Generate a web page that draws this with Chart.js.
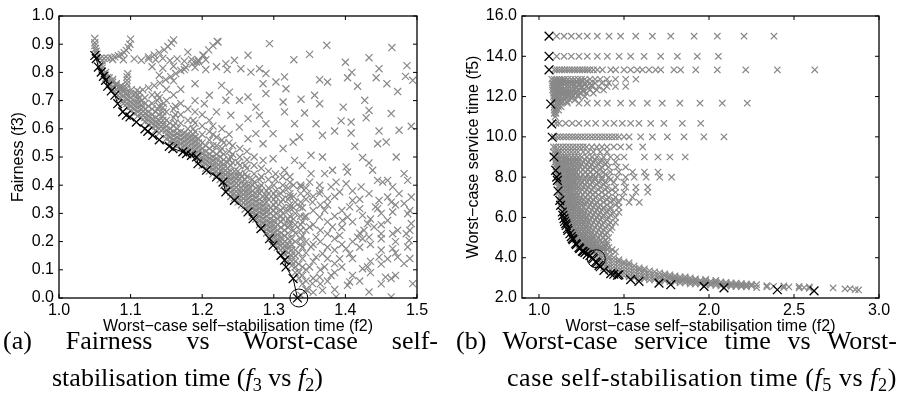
<!DOCTYPE html>
<html>
<head>
<meta charset="utf-8">
<script src="https://cdn.jsdelivr.net/npm/chart.js@4.4.0/dist/chart.umd.min.js"></script>
<style>
body{margin:0;background:#fff;width:898px;height:399px;overflow:hidden;position:relative}
#ca{position:absolute;left:0;top:0}
#cb{position:absolute;left:450px;top:0}
.cap{position:absolute;font-family:"Liberation Serif",serif;font-size:26px;line-height:37px;color:#000}
.cap div{white-space:nowrap}
.just{text-align:justify;text-align-last:justify;white-space:normal!important}
.cap sub{font-size:70%;vertical-align:-0.25em;line-height:0}
</style>
</head>
<body>
<canvas id="ca" width="450" height="340"></canvas>
<canvas id="cb" width="448" height="340"></canvas>
<div class="cap" style="left:3px;top:322px;width:435px">
  <div class="just">(a) Fairness vs Worst-case self-</div>
  <div style="padding-left:49px">stabilisation time (<i>f</i><sub>3</sub> vs <i>f</i><sub>2</sub>)</div>
</div>
<div class="cap" style="left:456px;top:322px;width:441px">
  <div class="just">(b) Worst-case service time vs Worst-</div>
  <div style="padding-left:51px;letter-spacing:0.55px">case self-stabilisation time (<i>f</i><sub>5</sub> vs <i>f</i><sub>2</sub>)</div>
</div>
<script>
// ---- (a) f3 vs f2 ----
const ticksAX = [1.0, 1.1, 1.2, 1.3, 1.4, 1.5];
const ticksAY = [0.0, 0.1, 0.2, 0.3, 0.4, 0.5, 0.6, 0.7, 0.8, 0.9, 1.0];

// non-dominated front (black, joined)
const frontA = [
 [1.050,0.860],[1.052,0.849],[1.055,0.819],[1.059,0.801],[1.062,0.786],[1.065,0.772],
 [1.068,0.751],[1.073,0.734],[1.078,0.719],[1.082,0.689],[1.089,0.660],[1.094,0.648],
 [1.099,0.642],[1.108,0.624],[1.120,0.600],[1.124,0.591],[1.131,0.577],[1.140,0.561],
 [1.154,0.538],[1.159,0.530],[1.173,0.518],[1.178,0.512],[1.185,0.506],[1.192,0.500],
 [1.194,0.476],[1.206,0.453],[1.220,0.429],[1.229,0.411],[1.233,0.376],[1.245,0.346],
 [1.264,0.305],[1.271,0.281],[1.282,0.246],[1.294,0.210],[1.299,0.187],[1.310,0.151],
 [1.315,0.134],[1.317,0.110],[1.327,0.069],[1.333,0.000]
];
const pickA = [[1.335,0.0]];

// dense population next to the front: [f2, [f3 ...]]
const denseA = [
 [1.06,[0.805,0.815,0.825]],
 [1.065,[0.78,0.79,0.80]],
 [1.07,[0.76,0.77,0.78]],
 [1.075,[0.74,0.75,0.765,0.775]],
 [1.08,[0.725,0.74,0.755]],
 [1.085,[0.71,0.725,0.74,0.75]],
 [1.09,[0.69,0.70,0.715,0.73,0.745]],
 [1.095,[0.675,0.69,0.705,0.72]],
 [1.10,[0.665,0.68,0.695,0.71,0.725]],
 [1.105,[0.655,0.67,0.685,0.70,0.72]],
 [1.11,[0.645,0.66,0.675,0.69,0.705,0.72]],
 [1.115,[0.64,0.655,0.67,0.685,0.70]],
 [1.12,[0.625,0.64,0.655,0.67,0.69,0.71]],
 [1.125,[0.615,0.63,0.645,0.66,0.68]],
 [1.13,[0.605,0.62,0.635,0.65,0.67,0.69,0.72]],
 [1.135,[0.595,0.61,0.625,0.64,0.66]],
 [1.14,[0.585,0.60,0.615,0.63,0.65,0.68,0.71,0.79]],
 [1.15,[0.565,0.58,0.595,0.61,0.63,0.66,0.70,0.74]],
 [1.155,[0.555,0.57,0.585,0.60,0.62]],
 [1.16,[0.545,0.56,0.575,0.59,0.61,0.64,0.67,0.72,0.77]],
 [1.165,[0.54,0.555,0.57,0.585,0.60]],
 [1.17,[0.53,0.545,0.56,0.575,0.59,0.62,0.65,0.69,0.74]],
 [1.175,[0.525,0.54,0.555,0.57,0.585]],
 [1.18,[0.52,0.535,0.55,0.565,0.58,0.60,0.63,0.67]],
 [1.185,[0.515,0.53,0.545,0.56,0.575]],
 [1.19,[0.51,0.525,0.54,0.555,0.57,0.59,0.62,0.66,0.70,0.76]],
 [1.195,[0.49,0.505,0.52,0.535,0.55,0.565]],
 [1.20,[0.47,0.485,0.50,0.515,0.53,0.55,0.58,0.61,0.65]],
 [1.205,[0.46,0.475,0.49,0.505,0.52,0.54]],
 [1.21,[0.45,0.465,0.48,0.495,0.51,0.53,0.56,0.59,0.63]],
 [1.215,[0.44,0.455,0.47,0.485,0.50,0.52]],
 [1.22,[0.435,0.45,0.465,0.48,0.495,0.51,0.54,0.57]],
 [1.225,[0.42,0.435,0.45,0.465,0.48,0.50,0.52]],
 [1.23,[0.40,0.415,0.43,0.445,0.46,0.475,0.49,0.51,0.55]],
 [1.235,[0.385,0.40,0.415,0.43,0.445,0.46,0.48]],
 [1.24,[0.36,0.375,0.39,0.405,0.42,0.435,0.45,0.47,0.50]],
 [1.245,[0.355,0.37,0.385,0.40,0.415,0.43,0.45]],
 [1.25,[0.34,0.355,0.37,0.385,0.40,0.415,0.43,0.45,0.48]],
 [1.255,[0.33,0.345,0.36,0.375,0.39,0.41,0.43]],
 [1.26,[0.315,0.33,0.345,0.36,0.375,0.39,0.405,0.42,0.44,0.47]],
 [1.265,[0.31,0.325,0.34,0.355,0.37,0.385,0.40]],
 [1.27,[0.29,0.305,0.32,0.335,0.35,0.365,0.38,0.40,0.42]],
 [1.275,[0.28,0.295,0.31,0.325,0.34,0.355,0.37,0.39]],
 [1.28,[0.26,0.275,0.29,0.305,0.32,0.335,0.35,0.37,0.39,0.42]],
 [1.285,[0.25,0.265,0.28,0.295,0.31,0.325,0.34,0.36]],
 [1.29,[0.23,0.245,0.26,0.275,0.29,0.305,0.32,0.34,0.36,0.38]],
 [1.295,[0.22,0.235,0.25,0.265,0.28,0.30,0.32]],
 [1.30,[0.20,0.215,0.23,0.245,0.26,0.275,0.29,0.31,0.33,0.35,0.37,0.40]],
 [1.305,[0.18,0.195,0.21,0.225,0.24,0.26,0.28]],
 [1.31,[0.17,0.185,0.20,0.215,0.23,0.25,0.27,0.29,0.31,0.34,0.37]],
 [1.315,[0.155,0.17,0.185,0.20,0.22,0.24,0.26]],
 [1.32,[0.13,0.145,0.16,0.175,0.19,0.21,0.23,0.25,0.28,0.31,0.35,0.39]],
 [1.325,[0.115,0.13,0.15,0.17,0.19,0.21]],
 [1.33,[0.09,0.11,0.13,0.15,0.17,0.20,0.23,0.26,0.30,0.34]],
 [1.335,[0.07,0.09,0.12,0.16]],
 [1.34,[0.05,0.08,0.11,0.14,0.18,0.22,0.27,0.32]],
 [1.345,[0.03,0.06,0.10]]
];

// extra fill of the thick part of the population: [f2, [f3 ...]]
const fillA = [
 [1.1125,[0.71,0.73]],
 [1.1375,[0.67,0.70,0.72]],
 [1.1625,[0.62,0.65,0.68]],
 [1.1875,[0.58,0.60,0.63]],
 [1.215,[0.54,0.58,0.61]],
 [1.2275,[0.53,0.56,0.60]],
 [1.2375,[0.49,0.52,0.55,0.58]],
 [1.2425,[0.48,0.51,0.54]],
 [1.2525,[0.44,0.47,0.50,0.53]],
 [1.2625,[0.43,0.46,0.49,0.52]],
 [1.2725,[0.41,0.44,0.47,0.50]],
 [1.2825,[0.38,0.40,0.43,0.46]],
 [1.2925,[0.35,0.37,0.39,0.42,0.45]],
 [1.3025,[0.30,0.32,0.34,0.36,0.38,0.42,0.44]],
 [1.3125,[0.28,0.30,0.32,0.35,0.38,0.40,0.43]],
 [1.3225,[0.26,0.27,0.29,0.32,0.33,0.36,0.37,0.41,0.43]],
 [1.3275,[0.24,0.28,0.32,0.36,0.40]],
 [1.3375,[0.19,0.21,0.24,0.26,0.29,0.34,0.37,0.40]],
 [1.345,[0.16,0.20,0.24,0.29,0.35,0.39]],
 [1.355,[0.02,0.07,0.13,0.19,0.26,0.31,0.36]],
 [1.365,[0.05,0.10,0.20,0.24,0.33,0.38]],
 [1.375,[0.06,0.14,0.18,0.27,0.33]],
 [1.385,[0.03,0.09,0.17,0.21,0.29,0.36]],
 [1.395,[0.11,0.19,0.25,0.31]],
 [1.41,[0.08,0.14,0.20,0.27,0.38]],
 [1.42,[0.06,0.18,0.23,0.35]],
 [1.435,[0.09,0.13,0.19,0.28]],
 [1.45,[0.05,0.12,0.17,0.21,0.26,0.30]],
 [1.47,[0.08,0.16,0.20,0.33]],
 [1.49,[0.14,0.24,0.31]]
];

// arcs, bands and spikes in the upper left
const arcsA = [
 [1.05,0.92],[1.05,0.905],[1.05,0.895],[1.051,0.885],[1.052,0.875],[1.053,0.865],
 [1.058,0.85],[1.063,0.849],[1.068,0.85],[1.073,0.852],[1.078,0.855],[1.083,0.859],
 [1.087,0.864],[1.091,0.87],[1.094,0.878],[1.097,0.888],[1.099,0.9],[1.10,0.918],
 [1.06,0.842],[1.075,0.846],[1.09,0.845],[1.105,0.848],[1.115,0.843],[1.125,0.848],
 [1.135,0.845],[1.145,0.85],[1.155,0.842],[1.165,0.848],[1.175,0.84],[1.185,0.846],
 [1.195,0.838],[1.205,0.845],
 [1.13,0.82],[1.145,0.815],[1.16,0.822],[1.175,0.81],[1.19,0.818],[1.205,0.81],[1.22,0.82],[1.235,0.81],
 [1.125,0.855],[1.133,0.862],[1.14,0.87],[1.147,0.88],[1.152,0.892],[1.157,0.904],[1.16,0.915],
 [1.063,0.795],[1.068,0.782],[1.074,0.77],[1.08,0.76],[1.087,0.752],[1.094,0.745],
 [1.101,0.739],[1.109,0.736],[1.117,0.738],[1.125,0.745],[1.133,0.753],[1.141,0.762],
 [1.149,0.774],[1.156,0.785],[1.163,0.796],[1.17,0.807],[1.177,0.818],[1.186,0.83],
 [1.195,0.843],[1.202,0.86],[1.209,0.88],[1.215,0.895],[1.221,0.91],
 [1.095,0.76],[1.095,0.772],[1.095,0.784],[1.096,0.795],[1.094,0.728],
 [1.145,0.6],[1.145,0.615],[1.145,0.63],[1.145,0.645],[1.145,0.66],[1.145,0.675],[1.146,0.69]
];

// scattered population
const scatterA = [
 [1.222,0.908],[1.294,0.902],[1.374,0.896],[1.465,0.888],[1.35,0.864],[1.328,0.845],
 [1.433,0.852],[1.40,0.836],[1.486,0.824],[1.447,0.813],[1.494,0.772],[1.484,0.786],
 [1.403,0.781],[1.409,0.80],[1.364,0.774],[1.375,0.766],[1.443,0.781],[1.458,0.76],
 [1.473,0.732],[1.417,0.751],[1.427,0.701],[1.433,0.665],[1.429,0.639],[1.464,0.654],
 [1.397,0.677],[1.357,0.719],[1.364,0.689],[1.338,0.705],[1.343,0.656],[1.359,0.618],
 [1.394,0.628],[1.408,0.624],[1.408,0.585],[1.385,0.592],[1.368,0.577],[1.447,0.592],
 [1.475,0.595],[1.492,0.609],[1.457,0.553],[1.445,0.547],[1.471,0.50],[1.413,0.538],
 [1.424,0.498],[1.433,0.479],[1.368,0.50],[1.352,0.506],[1.327,0.553],[1.336,0.571],
 [1.329,0.618],[1.315,0.66],[1.313,0.695],[1.317,0.742],[1.315,0.784],[1.303,0.766],
 [1.289,0.796],[1.28,0.813],[1.264,0.861],[1.245,0.843],[1.233,0.831],[1.201,0.861],
 [1.192,0.837],[1.18,0.872],[1.254,0.813],[1.268,0.801],[1.285,0.76],[1.289,0.725],
 [1.264,0.713],[1.275,0.677],[1.252,0.701],[1.238,0.73],[1.227,0.754],[1.21,0.719],
 [1.203,0.689],[1.22,0.66],[1.233,0.701],[1.24,0.648],[1.252,0.606],[1.264,0.636],
 [1.28,0.648],[1.289,0.618],[1.299,0.583],[1.275,0.583],[1.264,0.565],[1.285,0.547],
 [1.313,0.53],[1.299,0.494],[1.285,0.488],[1.315,0.453],[1.329,0.488],[1.34,0.47],
 [1.352,0.441],[1.371,0.441],[1.382,0.453],[1.401,0.465],[1.403,0.447],[1.438,0.453],
 [1.445,0.417],[1.452,0.411],[1.482,0.441],[1.487,0.417],[1.492,0.358],[1.482,0.335],
 [1.487,0.299],[1.492,0.264],[1.485,0.228],[1.489,0.204],[1.487,0.181],[1.482,0.122],
 [1.494,0.051],[1.473,0.145],[1.459,0.139],[1.447,0.145],[1.456,0.074],[1.466,0.228],
 [1.473,0.24],[1.459,0.275],[1.464,0.34],[1.459,0.358],[1.466,0.305],[1.447,0.346],
 [1.445,0.317],[1.44,0.252],[1.431,0.264],[1.426,0.24],[1.433,0.37],[1.422,0.394],
 [1.41,0.346],[1.401,0.405],[1.392,0.376],[1.387,0.411],[1.406,0.323],[1.403,0.287],
 [1.42,0.317],[1.424,0.293],[1.417,0.216],[1.424,0.21],[1.431,0.11],[1.424,0.104],
 [1.433,0.021],[1.406,0.057],[1.403,0.045],[1.401,0.175],[1.406,0.157],[1.392,0.139],
 [1.385,0.122],[1.387,0.004],[1.38,0.08],[1.371,0.11],[1.368,0.157],[1.375,0.228],
 [1.392,0.222],[1.382,0.252],[1.396,0.275],[1.364,0.287],[1.371,0.311],[1.354,0.34],
 [1.364,0.37],[1.375,0.352],[1.38,0.394],[1.364,0.40],[1.35,0.411],[1.347,0.37],
 [1.338,0.394],[1.336,0.323],[1.343,0.287],[1.35,0.252],[1.359,0.216],[1.352,0.181],
 [1.359,0.145],[1.35,0.11],[1.364,0.074],[1.354,0.051],[1.347,0.027],[1.338,0.009],
 [1.368,0.027],[1.464,0.004],[1.464,0.069],[1.466,0.175],[1.475,0.37],[1.45,0.228],
 [1.433,0.216],[1.442,0.323],[1.466,0.394],[1.459,0.417]
];

// ---- (b) f5 vs f2 ----
const ticksBX = [1.0, 1.5, 2.0, 2.5, 3.0];
const ticksBY = [2, 4, 6, 8, 10, 12, 14, 16];

const frontB = [
 [1.059,15.0],[1.059,14.0],[1.059,13.33],[1.069,11.63],[1.075,10.64],[1.078,9.98],
 [1.088,9.0],[1.098,8.34],[1.104,8.0],[1.108,7.84],[1.112,7.31],[1.122,6.85],
 [1.127,6.6],[1.137,6.27],[1.14,6.1],[1.147,5.94],[1.15,5.8],[1.157,5.69],[1.16,5.6],
 [1.167,5.44],[1.17,5.35],[1.182,5.19],[1.19,5.05],[1.196,4.95],[1.2,4.9],[1.216,4.70],
 [1.22,4.65],[1.235,4.50],[1.24,4.45],[1.255,4.33],[1.26,4.3],[1.27,4.25],[1.284,4.17],
 [1.3,4.1],[1.314,4.0],[1.32,3.95],[1.333,3.79],[1.34,3.75],[1.353,3.62],[1.36,3.55],
 [1.382,3.37],[1.422,3.21],[1.44,3.18],[1.461,3.13],[1.47,3.15],[1.539,2.91],[1.588,2.83],
 [1.706,2.74],[1.775,2.66],[1.971,2.58],[2.088,2.50],[2.402,2.41],[2.618,2.35]
];
const pickB = [[1.337,3.95]];

// horizontal rows of the population: [f5, [f2 ...]]
const rowsB = [
 [15.0,[1.104,1.147,1.19,1.235,1.284,1.343,1.412,1.48,1.569,1.667,1.775,1.912,2.049,2.206,2.382]],
 [14.0,[1.104,1.147,1.19,1.235,1.284,1.343,1.402,1.471,1.539,1.618,1.716,1.814,1.931,2.055]],
 [13.33,[1.09,1.105,1.12,1.135,1.15,1.165,1.18,1.195,1.21,1.225,1.24,1.255,1.27,1.285,1.30,1.32,1.343,1.373,1.422,1.451,1.50,1.539,1.578,1.608,1.647,1.686,1.716,1.794,1.833,1.922,2.049,2.216,2.402,2.622]],
 [12.86,[1.075,1.09,1.105,1.12,1.135,1.15,1.17,1.19,1.21,1.23,1.25,1.27,1.30,1.33,1.36,1.40,1.45,1.51,1.57]],
 [12.67,[1.08,1.095,1.11,1.125,1.14,1.16,1.18,1.20,1.22,1.24,1.27,1.30,1.33,1.37,1.41]],
 [12.5,[1.08,1.095,1.11,1.125,1.14,1.16,1.18,1.20,1.22,1.25,1.28,1.31,1.35,1.40,1.45,1.51]],
 [12.33,[1.08,1.095,1.11,1.125,1.14,1.16,1.18,1.20,1.23,1.26,1.30,1.34,1.38]],
 [12.17,[1.085,1.10,1.115,1.13,1.15,1.17,1.19,1.21,1.24,1.28,1.32]],
 [12.0,[1.085,1.10,1.115,1.13,1.15,1.17,1.20,1.23,1.27]],
 [11.83,[1.09,1.10,1.115,1.13,1.15,1.18,1.21]],
 [11.67,[1.10,1.127,1.167,1.235,1.284,1.343,1.402,1.48,1.549,1.637,1.725,1.829,1.947,2.078,2.225]],
 [11.5,[1.09,1.10,1.115,1.13]],
 [11.33,[1.09,1.10,1.115]],
 [11.17,[1.09,1.10]],
 [11.0,[1.095]],
 [10.67,[1.10,1.118,1.157,1.196,1.235,1.284,1.333,1.392,1.441,1.49,1.539,1.588,1.657,1.735,1.843,1.951]],
 [10.0,[1.09,1.108,1.125,1.143,1.16,1.178,1.196,1.214,1.231,1.25,1.27,1.29,1.31,1.33,1.35,1.37,1.39,1.41,1.43,1.45,1.47,1.50,1.53,1.598,1.667,1.755,1.853,1.97,2.088]],
 [9.5,[1.085,1.10,1.12,1.14,1.16,1.18,1.20,1.22,1.24,1.26,1.28,1.31,1.34,1.37,1.40,1.44,1.48,1.53,1.61]],
 [9.25,[1.085,1.10,1.115,1.13,1.15,1.17,1.19,1.21,1.23,1.26,1.29,1.32,1.36,1.40]],
 [9.0,[1.095,1.11,1.125,1.14,1.155,1.17,1.19,1.21,1.23,1.25,1.28,1.31,1.34,1.38,1.42,1.46,1.50,1.62,1.70,1.77,1.86]],
 [8.75,[1.095,1.11,1.125,1.14,1.155,1.17,1.19,1.21,1.23,1.26,1.29,1.32,1.36,1.40,1.45]],
 [8.5,[1.10,1.115,1.13,1.145,1.16,1.18,1.20,1.22,1.24,1.27,1.30,1.33,1.37,1.41,1.46,1.51]],
 [8.25,[1.105,1.12,1.135,1.15,1.165,1.18,1.20,1.22,1.245,1.27,1.30,1.34,1.38,1.42,1.47,1.55,1.62,1.70]],
 [8.0,[1.105,1.12,1.135,1.15,1.165,1.18,1.20,1.22,1.24,1.27,1.30,1.33,1.37,1.41,1.46,1.51,1.56,1.63,1.71,1.78]],
 [7.75,[1.11,1.125,1.14,1.155,1.17,1.19,1.21,1.23,1.25,1.28,1.31,1.35,1.39,1.44,1.50]],
 [7.5,[1.115,1.13,1.145,1.16,1.175,1.19,1.21,1.23,1.26,1.29,1.32,1.36,1.40,1.45,1.51,1.57,1.64]],
 [7.25,[1.12,1.135,1.15,1.165,1.18,1.20,1.22,1.24,1.27,1.30,1.33,1.37,1.41,1.45,1.50,1.57,1.64]],
 [7.0,[1.125,1.14,1.155,1.17,1.185,1.20,1.22,1.24,1.27,1.30,1.33,1.37,1.41,1.45,1.49,1.55]],
 [6.75,[1.13,1.145,1.16,1.175,1.19,1.21,1.23,1.25,1.28,1.31,1.34,1.38,1.42,1.47,1.53,1.59]],
 [6.5,[1.14,1.155,1.17,1.185,1.20,1.22,1.24,1.26,1.29,1.32,1.35,1.38,1.42,1.47]],
 [6.25,[1.145,1.16,1.175,1.19,1.21,1.23,1.25,1.27,1.30,1.33,1.36,1.40,1.44,1.47]],
 [6.0,[1.155,1.17,1.185,1.20,1.22,1.24,1.26,1.28,1.31,1.34,1.37,1.41,1.45]],
 [5.75,[1.165,1.18,1.195,1.21,1.23,1.25,1.27,1.29,1.32,1.35,1.38,1.42,1.45]],
 [5.5,[1.175,1.19,1.205,1.22,1.24,1.26,1.28,1.30,1.33,1.36,1.39,1.43]],
 [5.25,[1.19,1.205,1.22,1.235,1.25,1.27,1.29,1.31,1.34,1.37,1.40]],
 [5.0,[1.205,1.22,1.235,1.25,1.265,1.28,1.30,1.32,1.35,1.38,1.41]],
 [4.75,[1.225,1.24,1.255,1.27,1.285,1.30,1.32,1.34,1.37,1.40]],
 [4.5,[1.245,1.26,1.275,1.29,1.305,1.32,1.34,1.36,1.38,1.41]],
 [4.3,[1.27,1.285,1.30,1.315,1.33,1.35,1.37,1.39,1.42,1.45]]
];

// in-between rows that thicken the dense wedges: [f5, [f2 ...]]
const fillB = [
 [12.76,[1.085,1.10,1.115,1.13,1.145,1.16,1.18,1.20,1.22,1.25,1.28]],
 [12.58,[1.085,1.10,1.115,1.13,1.15,1.17,1.19,1.21,1.24,1.27,1.31]],
 [12.42,[1.085,1.10,1.115,1.13,1.15,1.17,1.19,1.22,1.25,1.29]],
 [12.25,[1.09,1.105,1.12,1.135,1.15,1.17,1.19,1.22,1.26]],
 [12.08,[1.09,1.105,1.12,1.135,1.155,1.175,1.20,1.23]],
 [11.92,[1.09,1.105,1.12,1.14,1.16,1.19]],
 [11.75,[1.095,1.11,1.125,1.14,1.165]],
 [8.875,[1.10,1.12,1.14,1.16,1.18,1.20,1.22,1.24,1.27,1.30,1.33,1.37]],
 [8.625,[1.10,1.12,1.14,1.16,1.18,1.20,1.23,1.25,1.28,1.31,1.35,1.39]],
 [8.375,[1.11,1.13,1.15,1.17,1.19,1.21,1.23,1.26,1.29,1.32,1.36]],
 [8.125,[1.11,1.13,1.15,1.17,1.19,1.21,1.23,1.26,1.29,1.32,1.35,1.39]],
 [7.875,[1.115,1.135,1.155,1.175,1.195,1.215,1.24,1.27,1.30,1.33,1.37,1.42]],
 [7.625,[1.12,1.14,1.16,1.18,1.20,1.22,1.245,1.27,1.30,1.34,1.38]],
 [7.375,[1.125,1.145,1.165,1.185,1.205,1.23,1.255,1.28,1.31,1.35,1.39,1.43]],
 [7.125,[1.13,1.15,1.17,1.19,1.21,1.23,1.26,1.29,1.32,1.35,1.39]],
 [6.875,[1.135,1.155,1.175,1.195,1.215,1.24,1.265,1.29,1.32,1.36,1.40,1.44]],
 [6.625,[1.145,1.165,1.185,1.205,1.225,1.25,1.275,1.30,1.33,1.36,1.40,1.45]],
 [6.375,[1.15,1.17,1.19,1.21,1.23,1.255,1.28,1.31,1.34,1.37,1.41]],
 [6.125,[1.16,1.18,1.20,1.22,1.24,1.265,1.29,1.32,1.35,1.38,1.42]],
 [5.875,[1.17,1.19,1.21,1.23,1.25,1.275,1.30,1.33,1.36,1.40]],
 [5.625,[1.18,1.20,1.22,1.24,1.26,1.285,1.31,1.34,1.37,1.41]],
 [5.375,[1.19,1.21,1.23,1.25,1.27,1.295,1.32,1.35,1.38,1.42]],
 [5.125,[1.20,1.22,1.24,1.26,1.28,1.305,1.33,1.36,1.39]],
 [4.875,[1.215,1.235,1.255,1.275,1.295,1.315,1.34,1.36,1.39]],
 [4.625,[1.235,1.255,1.275,1.295,1.315,1.335,1.355,1.38,1.40]],
 [4.4,[1.26,1.28,1.30,1.32,1.34,1.36,1.38,1.40,1.43]]
];

// low band of the population: [f2, [f5 ...]]
const bandB = [
 [1.35,[3.7,3.85,4.0,4.15]],
 [1.38,[3.5,3.65,3.8,3.95,4.1]],
 [1.41,[3.35,3.5,3.65,3.8,3.95,4.05]],
 [1.44,[3.25,3.4,3.55,3.7,3.85,4.0]],
 [1.47,[3.2,3.35,3.5,3.65,3.8,3.9]],
 [1.50,[3.1,3.25,3.4,3.55,3.7,3.8]],
 [1.53,[3.05,3.2,3.35,3.5,3.65,3.75]],
 [1.56,[3.0,3.15,3.3,3.45,3.6]],
 [1.59,[2.95,3.1,3.25,3.4,3.5]],
 [1.62,[2.95,3.05,3.2,3.35,3.45]],
 [1.65,[2.9,3.05,3.2,3.35]],
 [1.68,[2.9,3.0,3.15,3.3]],
 [1.71,[2.85,3.0,3.1,3.25]],
 [1.74,[2.85,2.95,3.1,3.2]],
 [1.77,[2.8,2.95,3.05,3.15]],
 [1.80,[2.8,2.9,3.0,3.1]],
 [1.83,[2.75,2.85,2.95,3.05]],
 [1.86,[2.75,2.85,2.95,3.05]],
 [1.89,[2.7,2.8,2.9,3.0]],
 [1.92,[2.7,2.8,2.9,2.95]],
 [1.95,[2.7,2.78,2.88]],
 [1.98,[2.65,2.75,2.85,2.92]],
 [2.01,[2.65,2.73,2.83]],
 [2.04,[2.62,2.72,2.8,2.88]],
 [2.07,[2.6,2.7,2.8]],
 [2.10,[2.6,2.68,2.78]],
 [2.13,[2.58,2.66,2.75]],
 [2.16,[2.57,2.65,2.74]],
 [2.19,[2.56,2.64,2.72]],
 [2.22,[2.55,2.62,2.7]],
 [2.25,[2.6,2.68]],
 [2.28,[2.52,2.66]],
 [2.34,[2.55,2.62]],
 [2.38,[2.58]],
 [2.44,[2.52,2.6]],
 [2.47,[2.55]],
 [2.53,[2.5,2.58]],
 [2.56,[2.52]],
 [2.59,[2.48,2.55]],
 [2.73,[2.5]],
 [2.80,[2.45]],
 [2.83,[2.47]],
 [2.86,[2.42]],
 [2.88,[2.4]]
];

const GRAY = '#888888';
const SANS = 'Liberation Sans';

const pts = a => a.map(([x, y]) => ({x, y}));
const cols = a => a.flatMap(([x, ys]) => ys.map(y => ({x, y})));
const rows = a => a.flatMap(([y, xs]) => xs.map(x => ({x, y})));

// box with inward ticks on all four sides
const boxTicks = {
  id: 'boxTicks',
  afterDraw(chart) {
    const {ctx, chartArea: a, scales: {x, y}} = chart;
    const L = 4;
    ctx.save();
    ctx.strokeStyle = '#000';
    ctx.lineWidth = 1.3;
    ctx.strokeRect(a.left, a.top, a.right - a.left, a.bottom - a.top);
    ctx.lineWidth = 1;
    ctx.beginPath();
    x.ticks.forEach(t => {
      const p = x.getPixelForValue(t.value);
      ctx.moveTo(p, a.bottom); ctx.lineTo(p, a.bottom - L);
      ctx.moveTo(p, a.top); ctx.lineTo(p, a.top + L);
    });
    y.ticks.forEach(t => {
      const p = y.getPixelForValue(t.value);
      ctx.moveTo(a.left, p); ctx.lineTo(a.left + L, p);
      ctx.moveTo(a.right, p); ctx.lineTo(a.right - L, p);
    });
    ctx.stroke();
    ctx.restore();
  }
};

function axis(min, max, ticks, title, tickPad, titlePad, extra) {
  return Object.assign({
    type: 'linear', min, max,
    grid: {display: false, drawTicks: false, tickLength: 0}, border: {display: false},
    ticks: {color: '#000', font: {family: SANS, size: 16}, autoSkip: false, maxRotation: 0,
            padding: tickPad, callback: v => Number(v).toFixed(1)},
    title: {display: true, text: title, color: '#000', font: {family: SANS, size: 16}, padding: titlePad},
    afterBuildTicks: s => { s.ticks = ticks.map(v => ({value: v})); }
  }, extra);
}

function makeChart(id, cfg) {
  return new Chart(document.getElementById(id), {
    type: 'scatter',
    data: {datasets: [
      {data: cfg.pick, pointStyle: 'circle', pointRadius: 9, pointBorderWidth: 1,
       pointBorderColor: '#000', pointBackgroundColor: 'rgba(0,0,0,0)', clip: false},
      {data: cfg.front, pointStyle: 'crossRot', pointRadius: 6.2, pointBorderWidth: 1.3,
       pointBorderColor: '#000', borderColor: '#000', borderWidth: 1, showLine: cfg.line, clip: false},
      {data: cfg.cloud, pointStyle: 'crossRot', pointRadius: cfg.r, pointBorderWidth: 1.2,
       pointBorderColor: GRAY}
    ]},
    options: {
      responsive: false, animation: false, events: [],
      layout: {padding: cfg.pad},
      plugins: {legend: {display: false}, tooltip: {enabled: false}},
      scales: {
        x: axis(cfg.xr[0], cfg.xr[1], cfg.xt, 'Worst\u2212case self\u2212stabilisation time (f2)', 3, 0, {
          afterFit: s => { s.height = 38; }
        }),
        y: axis(cfg.yr[0], cfg.yr[1], cfg.yt, cfg.ytitle, 5, {top: cfg.ytp, bottom: 0}, {
          afterFit: s => { s.width = cfg.yw; }
        })
      }
    },
    plugins: [boxTicks]
  });
}

makeChart('ca', {
  pick: pts(pickA), front: pts(frontA), line: true, r: 5,
  cloud: [...cols(denseA), ...cols(fillA), ...pts(arcsA), ...pts(scatterA)],
  pad: {top: 16, right: 33, bottom: 4, left: 0},
  xr: [1.0, 1.5], xt: ticksAX, yr: [0, 1], yt: ticksAY, yw: 59, ytp: 9,
  ytitle: 'Fairness (f3)'
});

makeChart('cb', {
  pick: pts(pickB), front: pts(frontB), line: false, r: 4.5,
  cloud: [...rows(rowsB), ...rows(fillB), ...cols(bandB)],
  pad: {top: 16, right: 19, bottom: 4, left: 0},
  xr: [0.9, 3.0], xt: ticksBX, yr: [2, 16], yt: ticksBY, yw: 72, ytp: 14,
  ytitle: 'Worst\u2212case service time (f5)'
});
</script>
</body>
</html>
